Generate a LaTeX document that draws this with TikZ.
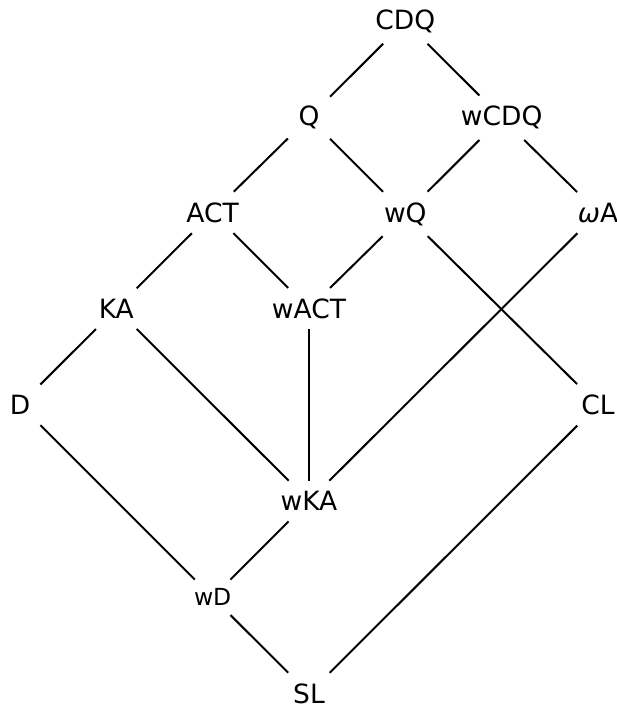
\documentclass[tikz,border=0pt]{standalone}
\usepackage{fontspec}
\setmainfont{DejaVu Sans}
\begin{document}
\begin{tikzpicture}[x=1pt,y=-1pt,
  lbl/.style={font=\fontsize{26.5}{30}\selectfont, inner sep=10.5pt, anchor=base},
  lblsmall/.style={font=\fontsize{23.5}{27}\selectfont, inner sep=9pt, anchor=base},
  edge/.style={line width=2pt, black}]
\useasboundingbox (0,0) rectangle (617,711);
\def\cx#1{20+96.33*#1}
\def\ry#1{29.7+96.2*#1}
\node[lbl] (CDQ)  at ({\cx{4}},{\ry{0}}) {CDQ};
\node[lbl] (Q)    at ({\cx{3}},{\ry{1}}) {Q};
\node[lbl] (wCDQ) at ({\cx{5}},{\ry{1}}) {wCDQ};
\node[lbl] (ACT)  at ({\cx{2}},{\ry{2}}) {ACT};
\node[lbl] (wQ)   at ({\cx{4}},{\ry{2}}) {wQ};
\node[lbl] (oA)   at ({\cx{6}},{\ry{2}}) {\textit{ω}A};
\node[lbl] (KA)   at ({\cx{1}},{\ry{3}}) {KA};
\node[lbl] (wACT) at ({\cx{3}},{\ry{3}}) {wACT};
\node[lbl] (D)    at ({\cx{0}},{\ry{4}}) {D};
\node[lbl] (CL)   at ({\cx{6}},{\ry{4}}) {CL};
\node[lbl] (wKA)  at ({\cx{3}},{\ry{5}}) {wKA};
\node[lblsmall] (wD) at ({\cx{2}},{\ry{6}-1}) {wD};
\node[lbl] (SL)   at ({\cx{3}},{\ry{7}}) {SL};
\draw[edge] (CDQ) -- (Q);
\draw[edge] (CDQ) -- (wCDQ);
\draw[edge] (Q) -- (ACT);
\draw[edge] (Q) -- (wQ);
\draw[edge] (wCDQ) -- (wQ);
\draw[edge] (wCDQ) -- (oA);
\draw[edge] (ACT) -- (KA);
\draw[edge] (ACT) -- (wACT);
\draw[edge] (wQ) -- (wACT);
\draw[edge] (wQ) -- (CL);
\draw[edge] (oA) -- (wKA);
\draw[edge] (KA) -- (D);
\draw[edge] (KA) -- (wKA);
\draw[edge] (wACT) -- (wKA);
\draw[edge] (D) -- (wD);
\draw[edge] (CL) -- (SL);
\draw[edge] (wKA) -- (wD);
\draw[edge] (wD) -- (SL);
\end{tikzpicture}
\end{document}
